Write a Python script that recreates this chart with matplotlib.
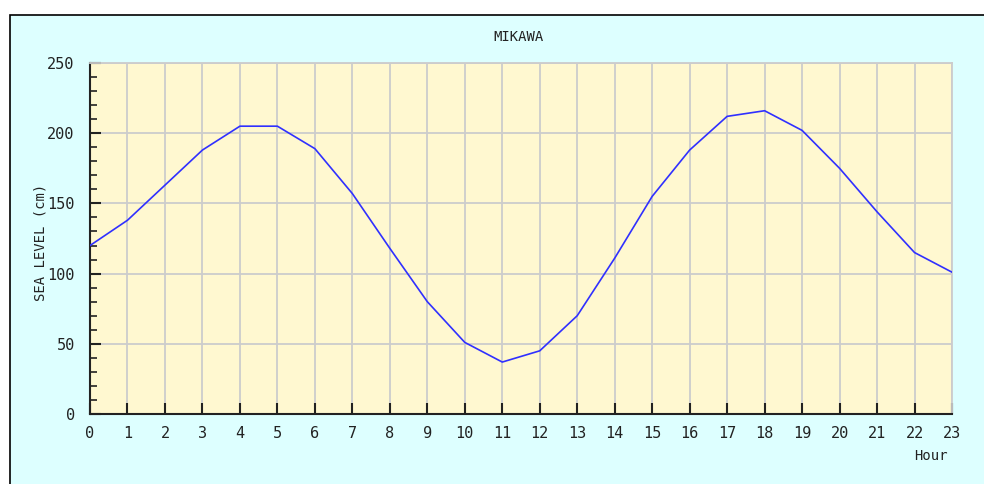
import matplotlib
matplotlib.use("Agg")
import matplotlib.pyplot as plt
from matplotlib.patches import Rectangle
from matplotlib.ticker import MultipleLocator

# hourly sea level at MIKAWA
hours = list(range(24))
level = [120, 138, 163, 188, 205, 205, 189, 157, 118, 80, 51, 37,
         45, 70, 111, 155, 188, 212, 216, 202, 175, 144, 115, 101]
y_ticks = [0, 50, 100, 150, 200, 250]

W, H = 984, 484
fig = plt.figure(figsize=(W / 100, H / 100), dpi=100)
fig.patch.set_facecolor("white")

# cyan panel with black top/left border
fig.patches.append(Rectangle((10 / W, -0.1), 1.2, 1 - 15 / H + 0.1,
                             transform=fig.transFigure, facecolor="#ddffff",
                             edgecolor="black", linewidth=1.2, zorder=-5))

ax = fig.add_axes([90 / W, (H - 414) / H, (952 - 90) / W, (414 - 63) / H])
ax.set_facecolor("#fff8d0")
ax.plot(hours, level, color="#3030ff", linewidth=1.2, zorder=3)

ax.set_xlim(0, 23)
ax.set_ylim(0, 250)
ax.set_xticks(hours)
ax.set_yticks(y_ticks)
ax.yaxis.set_minor_locator(MultipleLocator(10))
ax.grid(True, color="#cccccc", linewidth=1.3, zorder=1)
ax.set_axisbelow(True)

for s in ["top", "right"]:
    ax.spines[s].set_color("#cccccc")
    ax.spines[s].set_linewidth(1.3)
for s in ["left", "bottom"]:
    ax.spines[s].set_color("#222222")
    ax.spines[s].set_linewidth(1.5)

font = "DejaVu Sans Mono"
ax.tick_params(axis="both", which="major", direction="in", length=8, width=1.5,
               color="#222222", labelsize=11, labelcolor="#222222")
ax.tick_params(axis="y", which="minor", direction="in", length=5, width=1.2,
               color="#222222")
ax.tick_params(axis="x", pad=9)
ax.tick_params(axis="y", pad=11)
for lab in ax.get_xticklabels() + ax.get_yticklabels():
    lab.set_fontfamily(font)

fig.text(519 / W, 1 - 37 / H, "MIKAWA", ha="center", va="center",
         fontsize=10, family=font, color="#222222")
fig.text(40 / W, 1 - 242 / H, "SEA LEVEL (cm)", ha="center", va="center",
         rotation=90, fontsize=10, family=font, color="#222222")
fig.text(948 / W, 1 - 456 / H, "Hour", ha="right", va="center",
         fontsize=10, family=font, color="#222222")

fig.savefig("out.png", dpi=100)
